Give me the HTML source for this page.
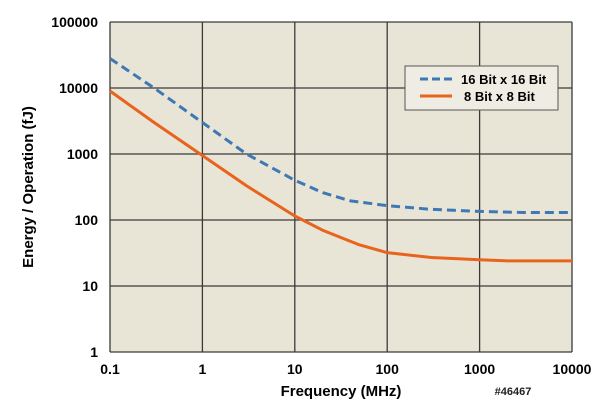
<!DOCTYPE html>
<html><head><meta charset="utf-8"><style>
body{margin:0;background:#fff;}
svg{display:block;font-family:"Liberation Sans",sans-serif;}
</style></head><body>
<svg id="chart" width="606" height="417"></svg>
<script>
const xTicks=[0.1,1,10,100,1000,10000];
const xTickLabels=["0.1","1","10","100","1000","10000"];
const yTicks=[1,10,100,1000,10000,100000];
const yTickLabels=["1","10","100","1000","10000","100000"];
const freq16=[0.1,0.3,1,3,10,20,40,100,300,1000,3000,10000];
const energy16=[28000,10000,3000,1000,400,260,195,165,145,135,130,130];
const freq8=[0.1,0.3,1,3,10,20,50,100,300,1000,2000,10000];
const energy8=[9000,3000,950,330,115,70,42,32,27,25,24,24];
const L=110,R=572,T=22,B=352;
const NS="http://www.w3.org/2000/svg";
const svg=document.getElementById('chart');
function X(v){return L+(Math.log10(v)+1)/5*(R-L);}
function Y(v){return B-Math.log10(v)/5*(B-T);}
function mk(t,a,txt){const e=document.createElementNS(NS,t);for(const k in a)e.setAttribute(k,a[k]);if(txt!==undefined)e.textContent=txt;svg.appendChild(e);return e;}
let bg=mk('rect',{x:L,y:T,width:R-L,height:B-T,fill:'#e8e5d6'});


xTicks.forEach((v,i)=>{
 let g=mk('line',{x1:X(v),x2:X(v),y1:T,y2:B,stroke:'#3a3a3a','stroke-width':1.3});
 
 
 let t=mk('text',{x:X(v),y:B+22,'text-anchor':'middle','font-size':14,'font-weight':'bold'},xTickLabels[i]);
 
 
});
yTicks.forEach((v,i)=>{
 let g=mk('line',{x1:L,x2:R,y1:Y(v),y2:Y(v),stroke:'#3a3a3a','stroke-width':1.3});
 
 
 let t=mk('text',{x:L-12,y:Y(v)+5,'text-anchor':'end','font-size':14,'font-weight':'bold'},yTickLabels[i]);
 
 
});
let p16=mk('polyline',{points:freq16.map((f,i)=>X(f)+','+Y(energy16[i])).join(' '),fill:'none',stroke:'#3f79b5','stroke-width':3,'stroke-dasharray':'9,5','stroke-linejoin':'round'});


let p8=mk('polyline',{points:freq8.map((f,i)=>X(f)+','+Y(energy8[i])).join(' '),fill:'none',stroke:'#e8631c','stroke-width':3,'stroke-linejoin':'round'});


let lg=mk('rect',{x:405,y:66,width:153,height:44,fill:'#efede3',stroke:'#555','stroke-width':1});


let l1=mk('line',{x1:420,x2:452,y1:79,y2:79,stroke:'#3f79b5','stroke-width':3,'stroke-dasharray':'8,4'});


let t1=mk('text',{x:461,y:84,'font-size':13,'font-weight':'bold'},'16 Bit x 16 Bit');


let l2=mk('line',{x1:420,x2:452,y1:96,y2:96,stroke:'#e8631c','stroke-width':3});


let t2=mk('text',{x:464,y:101,'font-size':13,'font-weight':'bold'},'8 Bit x 8 Bit');


let xt=mk('text',{x:341,y:396,'text-anchor':'middle','font-size':15,'font-weight':'bold'},'Frequency (MHz)');


let yt=mk('text',{x:0,y:0,'text-anchor':'middle','font-size':15,'font-weight':'bold',transform:'translate(33,187) rotate(-90)'},'Energy / Operation (fJ)');


let id=mk('text',{x:513,y:395,'text-anchor':'middle','font-size':11,'font-weight':'bold','fill':'#222'},'#46467');


</script>
</body></html>
